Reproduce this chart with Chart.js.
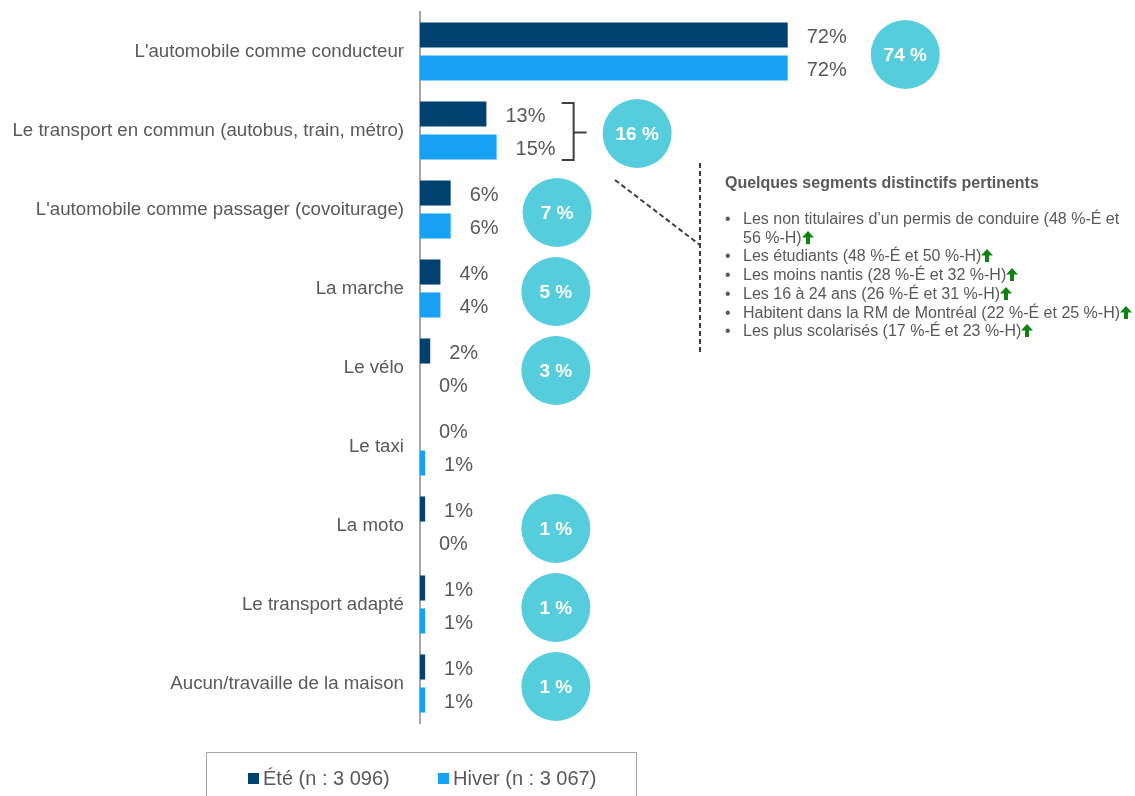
<!DOCTYPE html>
<html>
<head>
<meta charset="utf-8">
<script src="https://cdn.jsdelivr.net/npm/chart.js@4"></script>
<style>
  body { margin: 0; background: #fff; font-family: "Liberation Sans", Arial, sans-serif; }
  #wrap { position: relative; width: 1135px; height: 796px; overflow: hidden; }
  #note { position: absolute; left: 725px; top: 174px; color: #595959; font-size: 16px; }
  #note h4 { margin: 0 0 18px 0; font-size: 16px; font-weight: bold; }
  #note ul { margin: 0; padding: 0; list-style: none; }
  #note li { position: relative; padding-left: 18px; line-height: 18.7px; white-space: nowrap; }
  #note li:before { content: "\2022"; position: absolute; left: 0; }
  .up { display: inline-block; width: 12px; height: 13px; vertical-align: -1px; }
  #legend { position: absolute; left: 206px; top: 752px; width: 431px; height: 60px; border: 1px solid #a6a6a6;
            box-sizing: border-box; font-size: 20px; color: #595959; }
  #legend span.item { position: absolute; top: 14px; }
  #legend i { display: inline-block; width: 11px; height: 11px; margin-right: 4px; vertical-align: 1px; }
</style>
</head>
<body>
<div id="wrap">
  <canvas id="mainChart" width="1135" height="796"></canvas>
  <div id="note">
    <h4>Quelques segments distinctifs pertinents</h4>
    <ul id="noteList"></ul>
  </div>
  <div id="legend"></div>
</div>
<script>
const categories = [
  "L'automobile comme conducteur",
  'Le transport en commun (autobus, train, métro)',
  "L'automobile comme passager (covoiturage)",
  'La marche',
  'Le vélo',
  'Le taxi',
  'La moto',
  'Le transport adapté',
  'Aucun/travaille de la maison'
];
const ete = [72, 13, 6, 4, 2, 0, 1, 1, 1];
const hiver = [72, 15, 6, 4, 0, 1, 0, 1, 1];
const totals = [74, 16, 7, 5, 3, null, 1, 1, 1];
const seriesNames = ['Été (n : 3 096)', 'Hiver (n : 3 067)'];
const segments = [
  'Les non titulaires d\u2019un permis de conduire (48 %-É et<br>56 %-H)',
  'Les étudiants (48 %-É et 50 %-H)',
  'Les moins nantis (28 %-É et 32 %-H)',
  'Les 16 à 24 ans (26 %-É et 31 %-H)',
  'Habitent dans la RM de Montréal (22 %-É et 25 %-H)',
  'Les plus scolarisés (17 %-É et 23 %-H)'
];

const colors = {
    ete: '#00416f',
    hiver: '#17a1f5',
    circle: '#55cddc',
    text: '#595959',
    line: '#404040'
};
const FONT = '"Liberation Sans", Arial, sans-serif';

// note box + legend (html)
const arrow = '<svg class="up" viewBox="0 0 12 13"><path d="M6 0 L12 6.5 L8 6.5 L8 13 L4 13 L4 6.5 L0 6.5 Z" fill="#0e840e"/></svg>';
document.getElementById('noteList').innerHTML = segments.map(s => '<li>' + s + arrow + '</li>').join('');
document.getElementById('legend').innerHTML =
    '<span class="item" style="left:41px"><i style="background:' + colors.ete + '"></i>' + seriesNames[0] + '</span>' +
    '<span class="item" style="left:231px"><i style="background:' + colors.hiver + '"></i>' + seriesNames[1] + '</span>';

// value labels, bracket, circles, dashed connector
const extras = {
    id: 'extras',
    afterDatasetsDraw(chart) {
        const ctx = chart.ctx;
        const x = chart.scales.x;
        const labelRight = [];
        ctx.save();
        ctx.font = '20px ' + FONT;
        ctx.fillStyle = colors.text;
        ctx.textBaseline = 'middle';
        ctx.textAlign = 'left';
        chart.data.datasets.forEach((ds, d) => {
            chart.getDatasetMeta(d).data.forEach((bar, i) => {
                const t = ds.data[i] + '%';
                const lx = bar.x + 19;
                ctx.fillText(t, lx, bar.y + 2);
                labelRight[i] = Math.max(labelRight[i] || 0, lx + ctx.measureText(t).width);
            });
        });

        const m0 = chart.getDatasetMeta(0).data;
        const m1 = chart.getDatasetMeta(1).data;
        const colX = x.getPixelForValue(26.6);
        const r = 34.5;
        totals.forEach((tot, i) => {
            if (tot === null) return;
            const cy = (m0[i].y + m1[i].y) / 2 + 3;
            let cx = Math.max(colX, labelRight[i] + 24 + r);
            if (i === 1) {
                // bracket grouping the two bars
                const bx = labelRight[i] + 6;
                const top = m0[i].y - 11, bot = m1[i].y + 13;
                ctx.strokeStyle = colors.line;
                ctx.lineWidth = 2;
                ctx.beginPath();
                ctx.moveTo(bx, top); ctx.lineTo(bx + 12, top); ctx.lineTo(bx + 12, bot); ctx.lineTo(bx, bot);
                ctx.moveTo(bx + 12, cy - 1); ctx.lineTo(bx + 25, cy - 1);
                ctx.stroke();
                cx = bx + 25 + 16 + r;
            }
            ctx.fillStyle = colors.circle;
            ctx.beginPath();
            ctx.arc(cx, cy, r, 0, Math.PI * 2);
            ctx.fill();
            ctx.fillStyle = '#fff';
            ctx.font = 'bold 19px ' + FONT;
            ctx.textAlign = 'center';
            ctx.fillText(tot + ' %', cx, cy + 1);
        });

        // dashed connector to the note box
        ctx.strokeStyle = colors.line;
        ctx.lineWidth = 2;
        ctx.setLineDash([5, 3]);
        ctx.beginPath();
        ctx.moveTo(615, 180); ctx.lineTo(700, 245);
        ctx.moveTo(700, 163); ctx.lineTo(700, 353);
        ctx.stroke();
        ctx.restore();
    }
};

const ctxBar = document.getElementById('mainChart').getContext('2d');
const barChart = new Chart(ctxBar, {
    type: 'bar',
    data: {
        labels: categories,
        datasets: [{
            label: seriesNames[0],
            data: ete,
            backgroundColor: colors.ete,
            categoryPercentage: 0.835,
            barPercentage: 0.76
        }, {
            label: seriesNames[1],
            data: hiver,
            backgroundColor: colors.hiver,
            categoryPercentage: 0.835,
            barPercentage: 0.76
        }]
    },
    options: {
        indexAxis: 'y',
        responsive: false,
        animation: false,
        layout: {
            padding: { top: 12, bottom: 73, left: 0, right: 0 }
        },
        scales: {
            x: {
                display: false,
                min: 0,
                max: 140
            },
            y: {
                grid: { display: false, drawTicks: false },
                border: { display: true, color: '#a6a6a6', width: 2 },
                ticks: {
                    color: colors.text,
                    padding: 16,
                    font: { size: 18.7, family: FONT }
                },
                afterFit(scale) {
                    scale.width = 420;
                    scale.paddingTop = 0;
                    scale.paddingBottom = 0;
                }
            }
        },
        plugins: {
            legend: { display: false },
            tooltip: { enabled: false }
        }
    },
    plugins: [extras]
});
</script>
</body>
</html>
